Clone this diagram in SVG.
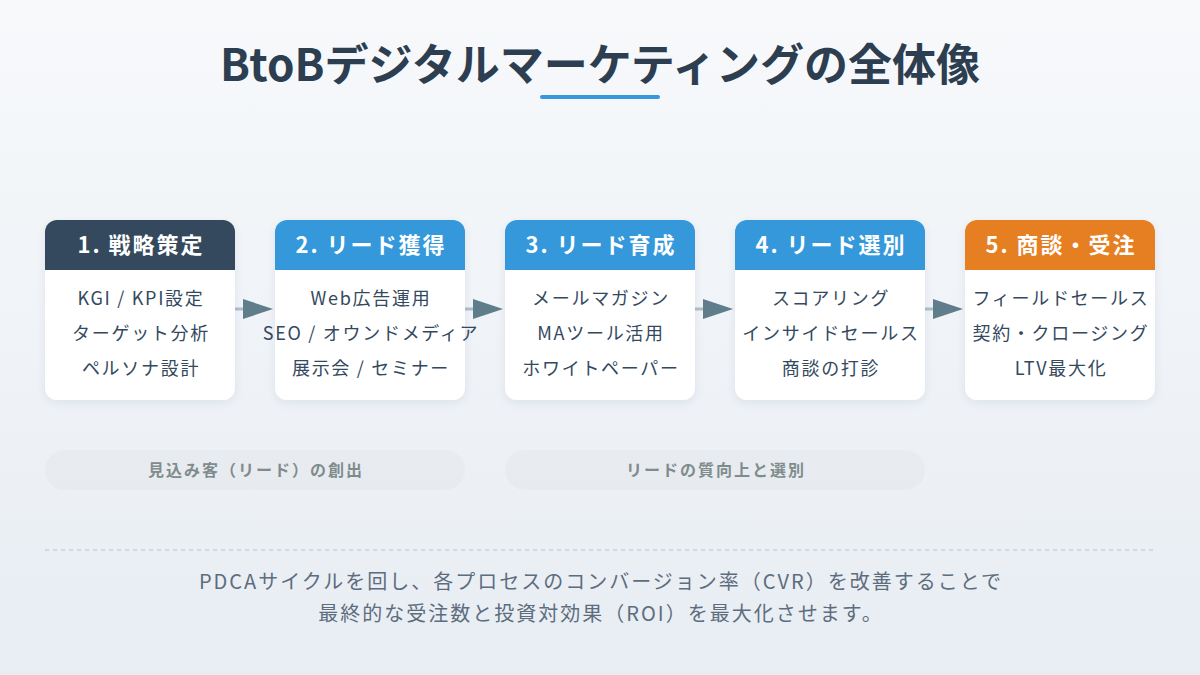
<svg xmlns="http://www.w3.org/2000/svg" width="1200" height="675" viewBox="0 0 1200 675">
<defs>
<linearGradient id="bg" x1="0" y1="0" x2="0" y2="1">
<stop offset="0" stop-color="#f7f9fb"/>
<stop offset="1" stop-color="#e8edf3"/>
</linearGradient>
<filter id="sh" x="-10%" y="-10%" width="120%" height="130%">
<feDropShadow dx="0" dy="3" stdDeviation="4" flood-color="#2c3e50" flood-opacity="0.08"/>
</filter>
<clipPath id="c1"><rect x="0" y="0" width="190" height="180" rx="12"/></clipPath>
</defs>
<style>
text{font-family:"Noto Sans CJK JP","Noto Sans",sans-serif}
.title{font-size:44px;font-weight:700;fill:#2c3e50;text-anchor:middle}
.hd{font-size:22px;font-weight:700;fill:#ffffff;text-anchor:middle;letter-spacing:2px}
.it{font-size:18px;fill:#34495e;text-anchor:middle;letter-spacing:1.7px}
.pill{fill:#e6eaee;opacity:0.8}
.pt{font-size:16px;font-weight:700;fill:#7f8c8d;text-anchor:middle;letter-spacing:2px}
.ft{font-size:20px;fill:#5d6d7e;text-anchor:middle;letter-spacing:2px}
.ln{stroke:#b0bec5;stroke-width:3}
.hdr{fill:#3498db}
</style>
<rect width="1200" height="675" fill="url(#bg)"/>
<g id="title">
<text class="title" x="600" y="81">BtoBデジタルマーケティングの全体像</text>
<rect x="540" y="95" width="120" height="4" rx="2" fill="#3498db"/>
</g>
<g id="connectors">
<line class="ln" x1="235" y1="309" x2="246" y2="309"/><polygon points="243,299 273,309 243,319" fill="#607d8b"/>
<line class="ln" x1="465" y1="309" x2="476" y2="309"/><polygon points="473,299 503,309 473,319" fill="#607d8b"/>
<line class="ln" x1="695" y1="309" x2="706" y2="309"/><polygon points="703,299 733,309 703,319" fill="#607d8b"/>
<line class="ln" x1="925" y1="309" x2="936" y2="309"/><polygon points="933,299 963,309 933,319" fill="#607d8b"/>
</g>
<g id="n1" transform="translate(45,220)">
<rect width="190" height="180" rx="12" fill="#fff" filter="url(#sh)"/>
<g clip-path="url(#c1)"><rect width="190" height="50" fill="#34495e"/></g>
<text class="hd" x="96" y="33">1. 戦略策定</text>
<text class="it" x="96" y="85">KGI / KPI設定</text>
<text class="it" x="96" y="120">ターゲット分析</text>
<text class="it" x="96" y="155">ペルソナ設計</text>
</g>
<g id="n2" transform="translate(275,220)">
<rect width="190" height="180" rx="12" fill="#fff" filter="url(#sh)"/>
<g clip-path="url(#c1)"><rect class="hdr" width="190" height="50"/></g>
<text class="hd" x="96" y="33">2. リード獲得</text>
<text class="it" x="96" y="85">Web広告運用</text>
<text class="it" x="96" y="120">SEO / オウンドメディア</text>
<text class="it" x="96" y="155">展示会 / セミナー</text>
</g>
<g id="n3" transform="translate(505,220)">
<rect width="190" height="180" rx="12" fill="#fff" filter="url(#sh)"/>
<g clip-path="url(#c1)"><rect class="hdr" width="190" height="50"/></g>
<text class="hd" x="96" y="33">3. リード育成</text>
<text class="it" x="96" y="85">メールマガジン</text>
<text class="it" x="96" y="120">MAツール活用</text>
<text class="it" x="96" y="155">ホワイトペーパー</text>
</g>
<g id="n4" transform="translate(735,220)">
<rect width="190" height="180" rx="12" fill="#fff" filter="url(#sh)"/>
<g clip-path="url(#c1)"><rect class="hdr" width="190" height="50"/></g>
<text class="hd" x="96" y="33">4. リード選別</text>
<text class="it" x="96" y="85">スコアリング</text>
<text class="it" x="96" y="120">インサイドセールス</text>
<text class="it" x="96" y="155">商談の打診</text>
</g>
<g id="n5" transform="translate(965,220)">
<rect width="190" height="180" rx="12" fill="#fff" filter="url(#sh)"/>
<g clip-path="url(#c1)"><rect width="190" height="50" fill="#e67e22"/></g>
<text class="hd" x="96" y="33">5. 商談・受注</text>
<text class="it" x="96" y="85">フィールドセールス</text>
<text class="it" x="96" y="120">契約・クロージング</text>
<text class="it" x="96" y="155">LTV最大化</text>
</g>
<g id="phase1">
<rect class="pill" x="45" y="450" width="420" height="40" rx="20"/>
<text class="pt" x="256" y="476">見込み客（リード）の創出</text>
</g>
<g id="phase2">
<rect class="pill" x="505" y="450" width="420" height="40" rx="20"/>
<text class="pt" x="716" y="476">リードの質向上と選別</text>
</g>
<line x1="45" y1="550" x2="1155" y2="550" stroke="#c8d0d6" stroke-width="1.5" stroke-dasharray="4,4"/>
<g id="footer">
<text class="ft" x="601" y="589">PDCAサイクルを回し、各プロセスのコンバージョン率（CVR）を改善することで</text>
<text class="ft" x="601" y="621">最終的な受注数と投資対効果（ROI）を最大化させます。</text>
</g>
</svg>
